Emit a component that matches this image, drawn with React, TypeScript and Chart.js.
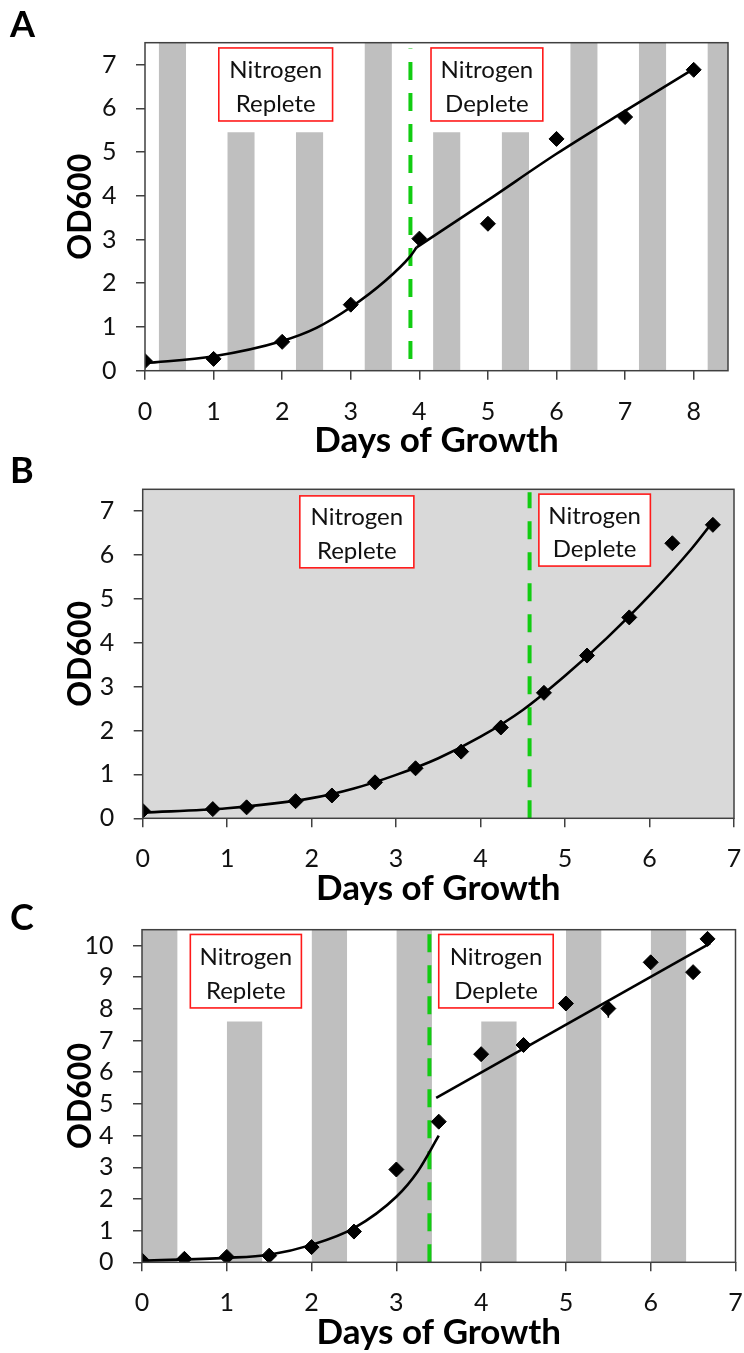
import React, { useEffect, useRef } from 'react';
import { Chart, registerables } from 'chart.js';
Chart.register(...registerables);

const FONT = 'Lato, "Open Sans", sans-serif';

// ---------- Panel A ----------
const aDays = [0, 1, 2, 3, 4, 5, 6, 7, 8];
const aOD = [0.22, 0.27, 0.66, 1.51, 3.02, 3.36, 5.3, 5.8, 6.88];
const aFit1Days = [0, 1, 2, 2.5, 3, 3.5, 3.87, 3.96];
const aFit1OD = [0.17, 0.33, 0.68, 0.98, 1.45, 2.05, 2.62, 2.82];
const aFit2Days = [3.96, 5, 6, 7, 8];
const aFit2OD = [2.82, 3.9, 4.96, 5.94, 6.9];
const aDarkStart = [0.2, 1.2, 2.2, 3.2, 4.2, 5.2, 6.2, 7.2, 8.2];
const aDarkEnd = [0.6, 1.6, 2.6, 3.6, 4.6, 5.6, 6.6, 7.6, 8.6];
const aDarkTop = [7.5, 5.45, 5.45, 7.5, 5.45, 5.45, 7.5, 7.5, 7.5];
const aSwitchDay = 3.87;
const aSwitchFrom = 0.27;
const aSwitchTo = 7.37;
const aXTicks = [0, 1, 2, 3, 4, 5, 6, 7, 8];
const aYTicks = [0, 1, 2, 3, 4, 5, 6, 7];

// ---------- Panel B ----------
const bDays = [0, 0.83, 1.23, 1.81, 2.24, 2.75, 3.23, 3.77, 4.24, 4.75, 5.26, 5.76, 6.27, 6.75];
const bOD = [0.17, 0.21, 0.25, 0.39, 0.52, 0.82, 1.14, 1.52, 2.07, 2.86, 3.71, 4.58, 6.27, 6.69];
const bFitDays = [0, 1, 2, 2.5, 3, 3.5, 4, 4.5, 5, 5.5, 6, 6.5, 6.75];
const bFitOD = [0.13, 0.23, 0.46, 0.68, 0.99, 1.37, 1.86, 2.47, 3.25, 4.12, 5.08, 6.15, 6.76];
const bSwitchDay = 4.58;
const bSwitchFrom = 0;
const bSwitchTo = 7.43;
const bXTicks = [0, 1, 2, 3, 4, 5, 6, 7];
const bYTicks = [0, 1, 2, 3, 4, 5, 6, 7];

// ---------- Panel C ----------
const cDays = [0, 0.5, 1, 1.5, 2, 2.5, 3, 3.5, 4, 4.5, 5, 5.5, 6, 6.5, 6.67];
const cOD = [0.06, 0.11, 0.17, 0.21, 0.48, 0.97, 2.93, 4.44, 6.57, 6.86, 8.17, 8.01, 9.47, 9.16, 10.21];
const cFit1Days = [0, 1, 1.5, 2, 2.5, 3, 3.25, 3.5];
const cFit1OD = [0.05, 0.14, 0.24, 0.55, 1.08, 2.07, 2.86, 4.0];
const cFit2Days = [3.47, 6.7];
const cFit2OD = [5.19, 10.07];
const cErrDay = 5.5;
const cErrLow = 7.72;
const cErrHigh = 8.01;
const cDarkStart = [0, 1, 2, 3, 4, 5, 6];
const cDarkEnd = [0.42, 1.42, 2.42, 3.42, 4.42, 5.42, 6.42];
const cDarkTop = [10.5, 7.6, 10.5, 10.5, 7.6, 10.5, 10.5];
const cSwitchDay = 3.39;
const cSwitchFrom = 0;
const cSwitchTo = 10.5;
const cXTicks = [0, 1, 2, 3, 4, 5, 6, 7];
const cYTicks = [0, 1, 2, 3, 4, 5, 6, 7, 8, 9, 10];

const repleteText = ['Nitrogen', 'Replete'];
const depleteText = ['Nitrogen', 'Deplete'];

const W = 744;

type Box = { x0: number; x1: number; y0: number; y1: number; lines: string[] };
type PanelCfg = {
  letter: string;
  top: number;
  height: number;
  area: { left: number; top: number; right: number; bottom: number };
  xMax: number;
  yMax: number;
  xTicks: number[];
  yTicks: number[];
  plotBg: string | null;
  letterBaseline: number;
  boxes: Box[];
  datasets: any[];
};

const pts = (xs: number[], ys: number[]) => xs.map((x, i) => ({ x, y: ys[i] }));

const darkBands = (starts: number[], ends: number[], tops: number[]) =>
  starts.map((s, i) => ({
    type: 'line',
    data: [
      { x: s, y: tops[i] },
      { x: ends[i], y: tops[i] },
    ],
    borderWidth: 0,
    borderColor: 'rgba(0,0,0,0)',
    backgroundColor: '#bfbfbf',
    fill: 'origin',
    pointRadius: 0,
    order: 10,
  }));

const switchLine = (day: number, from: number, to: number) => ({
  type: 'line',
  data: [
    { x: day, y: from },
    { x: day, y: to },
  ],
  borderColor: '#12cc12',
  borderWidth: 4,
  borderDash: [18, 13],
  pointRadius: 0,
  fill: false,
  order: 5,
});

const fitLine = (xs: number[], ys: number[]) => ({
  type: 'line',
  data: pts(xs, ys),
  borderColor: '#000',
  borderWidth: 2.6,
  pointRadius: 0,
  fill: false,
  cubicInterpolationMode: 'monotone',
  order: 2,
});

const markers = (xs: number[], ys: number[]) => ({
  type: 'scatter',
  data: pts(xs, ys),
  pointStyle: 'rectRot',
  pointRadius: 7.5,
  backgroundColor: '#000',
  borderColor: '#000',
  borderWidth: 1,
  showLine: false,
  order: 0,
});

const panels: PanelCfg[] = [
  {
    letter: 'A',
    top: 0,
    height: 465,
    area: { left: 145, top: 42.7, right: 728, bottom: 370.7 },
    xMax: 8.5,
    yMax: 7.5,
    xTicks: aXTicks,
    yTicks: aYTicks,
    plotBg: null,
    letterBaseline: 37,
    boxes: [
      { x0: 1.076, x1: 2.735, y0: 5.71, y1: 7.38, lines: repleteText },
      { x0: 4.17, x1: 5.8, y0: 5.71, y1: 7.38, lines: depleteText },
    ],
    datasets: [
      markers(aDays, aOD),
      fitLine(aFit1Days, aFit1OD),
      fitLine(aFit2Days, aFit2OD),
      switchLine(aSwitchDay, aSwitchFrom, aSwitchTo),
      ...darkBands(aDarkStart, aDarkEnd, aDarkTop),
    ],
  },
  {
    letter: 'B',
    top: 450,
    height: 455,
    area: { left: 142.7, top: 39.3, right: 734, bottom: 368.3 },
    xMax: 7,
    yMax: 7.5,
    xTicks: bXTicks,
    yTicks: bYTicks,
    plotBg: '#d9d9d9',
    letterBaseline: 33,
    boxes: [
      { x0: 1.86, x1: 3.21, y0: 5.71, y1: 7.35, lines: repleteText },
      { x0: 4.69, x1: 6.01, y0: 5.75, y1: 7.39, lines: depleteText },
    ],
    datasets: [
      markers(bDays, bOD),
      fitLine(bFitDays, bFitOD),
      switchLine(bSwitchDay, bSwitchFrom, bSwitchTo),
    ],
  },
  {
    letter: 'C',
    top: 895,
    height: 458,
    area: { left: 142, top: 34.7, right: 740, bottom: 367.3 },
    xMax: 7,
    yMax: 10.5,
    xTicks: cXTicks,
    yTicks: cYTicks,
    plotBg: null,
    letterBaseline: 35,
    boxes: [
      { x0: 0.57, x1: 1.88, y0: 8.03, y1: 10.35, lines: repleteText },
      { x0: 3.5, x1: 4.85, y0: 8.03, y1: 10.35, lines: depleteText },
    ],
    datasets: [
      markers(cDays, cOD),
      {
        type: 'line',
        data: [
          { x: cErrDay, y: cErrLow },
          { x: cErrDay, y: cErrHigh },
        ],
        borderColor: '#000',
        borderWidth: 1.5,
        pointRadius: 0,
        fill: false,
        order: 1,
      },
      fitLine(cFit1Days, cFit1OD),
      fitLine(cFit2Days, cFit2OD),
      switchLine(cSwitchDay, cSwitchFrom, cSwitchTo),
      ...darkBands(cDarkStart, cDarkEnd, cDarkTop),
    ],
  },
];

function Panel({ cfg }: { cfg: PanelCfg }) {
  const ref = useRef<HTMLCanvasElement | null>(null);

  useEffect(() => {
    const canvas = ref.current;
    if (!canvas) return;
    const { area, height: H } = cfg;
    const tickLen = 9;
    const tickSize = 25;
    const titleSize = 35;
    const yTitleSize = 32;

    const decor = {
      id: 'decor' + cfg.letter,
      beforeDatasetsDraw(chart: any) {
        const { ctx, chartArea: ca } = chart;
        if (cfg.plotBg) {
          ctx.save();
          ctx.fillStyle = cfg.plotBg;
          ctx.fillRect(ca.left, ca.top, ca.right - ca.left, ca.bottom - ca.top);
          ctx.restore();
        }
      },
      afterDatasetsDraw(chart: any) {
        const { ctx, chartArea: ca, scales } = chart;
        const xs = scales.x;
        const ys = scales.y;
        ctx.save();
        ctx.strokeStyle = '#404040';
        ctx.lineWidth = 1.5;
        ctx.strokeRect(ca.left, ca.top, ca.right - ca.left, ca.bottom - ca.top);
        for (const b of cfg.boxes) {
          const l = xs.getPixelForValue(b.x0);
          const r = xs.getPixelForValue(b.x1);
          const t = ys.getPixelForValue(b.y1);
          const bt = ys.getPixelForValue(b.y0);
          ctx.fillStyle = '#ffffff';
          ctx.fillRect(l, t, r - l, bt - t);
          ctx.strokeStyle = '#ff1a1a';
          ctx.lineWidth = 1.6;
          ctx.strokeRect(l, t, r - l, bt - t);
          ctx.fillStyle = '#111';
          ctx.font = `24px ${FONT}`;
          ctx.textAlign = 'center';
          ctx.textBaseline = 'alphabetic';
          const h = bt - t;
          const cx = (l + r) / 2;
          ctx.fillText(b.lines[0], cx, t + h * 0.41);
          ctx.fillText(b.lines[1], cx, t + h * 0.875);
        }
        ctx.restore();
      },
      afterDraw(chart: any) {
        const { ctx } = chart;
        ctx.save();
        ctx.fillStyle = '#000';
        ctx.font = `bold 36px ${FONT}`;
        ctx.textAlign = 'left';
        ctx.textBaseline = 'alphabetic';
        ctx.fillText(cfg.letter, 10, cfg.letterBaseline);
        ctx.restore();
      },
    };

    const chart = new Chart(canvas, {
      type: 'scatter',
      data: { datasets: cfg.datasets as any },
      options: {
        animation: false,
        responsive: false,
        maintainAspectRatio: false,
        devicePixelRatio: 1,
        layout: {
          padding: { top: area.top, right: W - area.right, left: 0, bottom: 0 },
        },
        plugins: {
          legend: { display: false },
          tooltip: { enabled: false },
        },
        scales: {
          x: {
            type: 'linear',
            min: 0,
            max: cfg.xMax,
            afterBuildTicks: (s: any) => {
              s.ticks = cfg.xTicks.map((v) => ({ value: v }));
            },
            afterFit: (s: any) => {
              s.height = H - area.bottom;
              s.paddingLeft = 0;
              s.paddingRight = 0;
            },
            border: { display: false },
            grid: {
              drawOnChartArea: false,
              drawTicks: true,
              tickLength: tickLen,
              color: '#404040',
              lineWidth: 1.5,
            },
            ticks: {
              color: '#111',
              font: { family: FONT, size: tickSize, lineHeight: 1 },
              padding: 19.5,
              maxRotation: 0,
              autoSkip: false,
            },
            title: {
              display: true,
              text: 'Days of Growth',
              color: '#000',
              font: { family: FONT, size: titleSize, weight: 'bold', lineHeight: 1 },
              padding: { top: 0, bottom: H - area.bottom - 70.5 - titleSize / 2 },
            },
          },
          y: {
            type: 'linear',
            min: 0,
            max: cfg.yMax,
            afterBuildTicks: (s: any) => {
              s.ticks = cfg.yTicks.map((v) => ({ value: v }));
            },
            afterFit: (s: any) => {
              s.width = area.left;
              s.paddingTop = 0;
              s.paddingBottom = 0;
            },
            border: { display: false },
            grid: {
              drawOnChartArea: false,
              drawTicks: true,
              tickLength: tickLen,
              color: '#404040',
              lineWidth: 1.5,
            },
            ticks: {
              color: '#111',
              font: { family: FONT, size: tickSize, lineHeight: 1 },
              padding: 19.5,
              autoSkip: false,
            },
            title: {
              display: true,
              text: 'OD600',
              color: '#000',
              font: { family: FONT, size: yTitleSize, weight: 'bold', lineHeight: 1 },
              padding: { top: 80.5 - yTitleSize / 2, bottom: 0 },
            },
          },
        },
      },
      plugins: [decor],
    } as any);

    return () => {
      chart.destroy();
    };
  }, [cfg]);

  return (
    <canvas
      ref={ref}
      width={W}
      height={cfg.height}
      style={{ position: 'absolute', left: 0, top: cfg.top, width: W, height: cfg.height }}
    />
  );
}

export default function App() {
  return (
    <div style={{ position: 'absolute', left: 0, top: 0, width: W, height: 1353, background: '#fff' }}>
      {panels.map((p) => (
        <Panel key={p.letter} cfg={p} />
      ))}
    </div>
  );
}
